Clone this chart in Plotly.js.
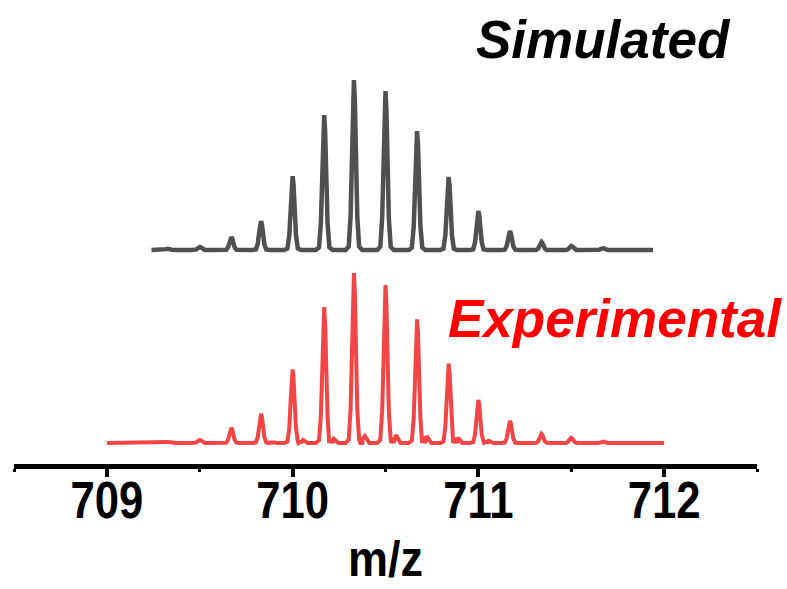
<!DOCTYPE html>
<html>
<head>
<meta charset="utf-8">
<script src="https://cdn.plot.ly/plotly-3.0.1.min.js"></script>
<style>html,body{margin:0;padding:0;background:#fff;}#chart{width:787px;height:589px;}</style>
</head>
<body>
<div id="chart"></div>
<script>
// Isotope peak centres (m/z) and relative intensities (% of base peak)
const simCenters = [709.33, 709.50, 709.67, 709.83, 710.00, 710.17, 710.33, 710.50, 710.67, 710.84, 711.00, 711.17, 711.34, 711.50, 711.67];
const simIntensity = [0.9, 1.8, 7.6, 17.0, 43.5, 79.4, 100, 93.5, 70.0, 43.0, 23.0, 11.2, 4.7, 2.4, 1.2];
const simRange = [709.24, 711.94];

const expCenters = [709.33, 709.50, 709.67, 709.83, 710.00, 710.17, 710.33, 710.50, 710.67, 710.84, 711.00, 711.17, 711.34, 711.50, 711.67];
const expIntensity = [0.6, 1.8, 8.9, 17.2, 43.2, 79.9, 100, 92.9, 72.8, 46.7, 25.4, 13.0, 5.3, 3.0, 0.9];
// small shoulders seen just after the main peaks in the experimental trace
const expShoulderCenters = [709.89, 710.056, 710.222, 710.389, 710.556, 710.722, 710.889, 711.056];
const expShoulderIntensity = [0.6, 1.8, 2.4, 4.1, 4.7, 4.1, 3.0, 1.2];
const expRange = [709.0, 712.0];

const xTickVals = [709, 710, 711, 712];
const xTickText = ['709', '710', '711', '712'];

// peak drawing template (relative offset in m/z, relative height)
const peakDx = [-0.045, -0.028, -0.018, -0.01, -0.005, 0, 0.005, 0.01, 0.018, 0.028, 0.045];
const peakRel = [0, 0.02, 0.2, 0.61, 0.88, 1, 0.88, 0.61, 0.2, 0.02, 0];
const shDx = [-0.025, -0.012, 0, 0.012, 0.025];
const shRel = [0, 0.6, 1, 0.6, 0];

function buildTrace(range, centers, heights, shC, shH, offset) {
  const pts = [[range[0], 0], [range[1], 0]];
  centers.forEach((c, i) => peakDx.forEach((d, j) => pts.push([c + d, heights[i] * peakRel[j]])));
  (shC || []).forEach((c, i) => shDx.forEach((d, j) => pts.push([c + d, shH[i] * shRel[j]])));
  pts.sort((a, b) => a[0] - b[0]);
  return {x: pts.map(p => p[0]), y: pts.map(p => p[1] + offset)};
}

const simOffset = 113.5;
const sim = buildTrace(simRange, simCenters, simIntensity, null, null, simOffset);
const exp = buildTrace(expRange, expCenters, expIntensity, expShoulderCenters, expShoulderIntensity, 0);

const data = [
  {x: sim.x, y: sim.y, type: 'scatter', mode: 'lines', line: {color: '#505050', width: 4.5}, hoverinfo: 'skip'},
  {x: exp.x, y: exp.y, type: 'scatter', mode: 'lines', line: {color: '#f24545', width: 4}, hoverinfo: 'skip'}
];

const FONT = '"Liberation Sans", Arial, sans-serif';
const layout = {
  width: 787, height: 589,
  margin: {l: 14, r: 30, t: 0, b: 125},
  paper_bgcolor: '#fff', plot_bgcolor: '#fff',
  showlegend: false,
  xaxis: {
    range: [708.5, 712.5],
    showgrid: false, zeroline: false,
    showline: true, linecolor: '#000', linewidth: 5,
    ticks: 'outside', ticklen: 8, tickwidth: 4, tickcolor: '#000',
    ticklabelstandoff: -21,
    tickvals: xTickVals, ticktext: xTickText,
    minor: {dtick: 0.5, tick0: 708.5, ticks: 'outside', ticklen: 3, tickwidth: 3, tickcolor: '#000'},
    tickfont: {family: FONT, size: 52, color: '#000', weight: 'bold'},
    title: {text: '<b>m/z</b>', font: {family: FONT, size: 50, color: '#000'}}
  },
  yaxis: {
    range: [-12.35, 260.6],
    visible: false, showgrid: false, zeroline: false
  },
  annotations: [
    {text: '<b><i>Simulated</i></b>', xref: 'paper', yref: 'paper', x: (474 - 14) / 743, y: 1 - 39 / 464, xanchor: 'left', yanchor: 'middle', showarrow: false,
     font: {family: FONT, size: 53, color: '#000'}},
    {text: '<b><i>Experimental</i></b>', xref: 'paper', yref: 'paper', x: (446 - 14) / 743, y: 1 - 318 / 464, xanchor: 'left', yanchor: 'middle', showarrow: false,
     font: {family: FONT, size: 53, color: '#ff0000'}}
  ]
};

function narrow(sel, f, dy) {
  document.querySelectorAll(sel).forEach(t => {
    const cx = parseFloat(t.getAttribute('x') || '0');
    const tr = t.getAttribute('transform') || '';
    t.setAttribute('transform', tr + ' translate(' + cx + ',' + (dy || 0) + ') scale(' + f + ',1) translate(' + (-cx) + ',0)');
  });
}

Plotly.newPlot('chart', data, layout, {staticPlot: true, displayModeBar: false}).then(() => {
  narrow('#chart .xtick text', 0.84, 0);
  narrow('#chart .g-xtitle text', 0.9, -2);
});
</script>
</body>
</html>
